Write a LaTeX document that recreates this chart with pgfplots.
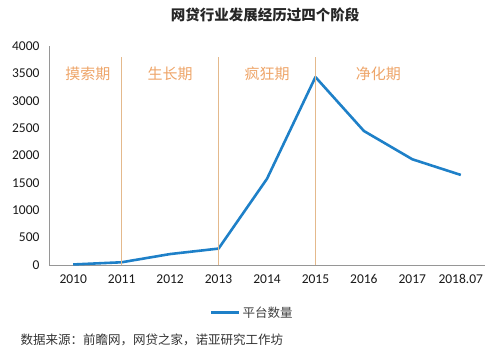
\documentclass[border=0pt]{standalone}
\usepackage{pgfplots}
\pgfplotsset{compat=1.18}
\usepackage{fontspec}
\setmainfont{Carlito}
\newfontfamily\cjk{Noto Sans CJK SC}
\definecolor{lineblue}{RGB}{30,128,200}
\definecolor{phaseline}{RGB}{228,185,140}
\definecolor{phasetext}{RGB}{238,165,105}
\definecolor{axgray}{RGB}{150,150,150}
\begin{document}
\begin{tikzpicture}[x=1bp,y=1bp]
\path[use as bounding box] (0,0) rectangle (500,362);
\begin{axis}[
  at={(49bp,97bp)}, anchor=south west,
  scale only axis, width=436bp, height=219bp,
  xmin=-0.5, xmax=8.5, ymin=0, ymax=4000,
  xtick={0,...,8},
  xticklabels={2010,2011,2012,2013,2014,2015,2016,2017,2018.07},
  ytick={0,500,...,4000},
  axis x line*=bottom, axis y line*=left,
  axis line style={axgray, line width=1pt, -},
  major tick length=0pt,
  /pgf/number format/assume math mode=true,
  /pgf/number format/1000 sep={},
  tick label style={font=\fontsize{13.5bp}{15bp}\selectfont, text=black!90},
  xticklabel style={yshift=-6bp},
  yticklabel style={xshift=-6bp},
  legend style={at={(0.466,-0.219)}, anchor=center, draw=none, fill=none,
    font=\cjk\fontsize{12.5bp}{14bp}\selectfont, text=black!75},
  legend cell align=left,
  legend image code/.code={\draw[#1, line width=3pt] (0bp,0bp) -- (28bp,0bp);},
  clip=false,
]
\addplot[lineblue, line width=2.6pt, line join=round] coordinates {
  (0,10) (1,50) (2,200) (3,300) (4,1575) (5,3433) (6,2448) (7,1931) (8,1645)};
\addlegendentry{平台数量}
\addplot[phaseline, line width=1.3pt, forget plot] coordinates {(1,0) (1,3800)};
\addplot[phaseline, line width=1.3pt, forget plot] coordinates {(3,0) (3,3800)};
\addplot[phaseline, line width=1.3pt, forget plot] coordinates {(5,0) (5,3800)};
\node[text=phasetext, font=\cjk\fontsize{15bp}{17bp}\selectfont] at (axis cs:0.3,3500) {摸索期};
\node[text=phasetext, font=\cjk\fontsize{15bp}{17bp}\selectfont] at (axis cs:2,3500) {生长期};
\node[text=phasetext, font=\cjk\fontsize{15bp}{17bp}\selectfont] at (axis cs:4,3500) {疯狂期};
\node[text=phasetext, font=\cjk\fontsize{15bp}{17bp}\selectfont] at (axis cs:6.3,3500) {净化期};
\end{axis}
\node[font=\cjk\bfseries\fontsize{14.5bp}{16bp}\selectfont, text=black!85] at (265,347) {网贷行业发展经历过四个阶段};
\node[anchor=west, font=\cjk\fontsize{12.5bp}{14bp}\selectfont, text=black!80] at (17,22) {数据来源：前瞻网，网贷之家，诺亚研究工作坊};
\end{tikzpicture}
\end{document}
